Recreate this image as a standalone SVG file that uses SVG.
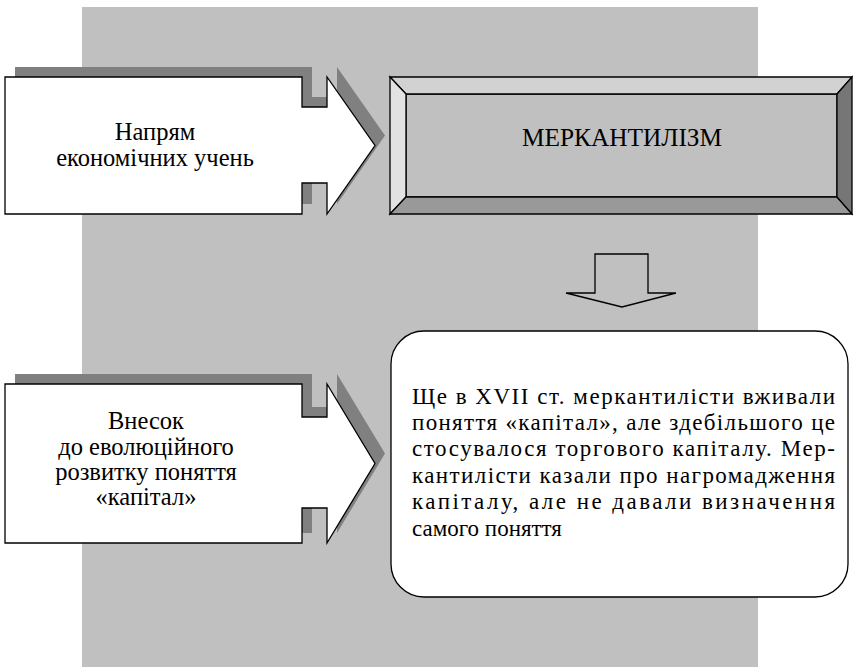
<svg xmlns="http://www.w3.org/2000/svg" width="853" height="667" viewBox="0 0 853 667">
<style>
  .bg { fill: #c0c0c0; }
  .shadow { fill: #808080; stroke: none; }
  .box { fill: #ffffff; stroke: #000; stroke-width: 1.3; stroke-linejoin: miter; }
  .bev { stroke: #000; stroke-width: 1.3; stroke-linejoin: miter; }
  text { font-family: 'Liberation Serif', 'Times New Roman', serif; fill: #000; }
  .lbl { font-size: 24.5px; text-anchor: middle; }
  .body { font-size: 23px; }
  .conn { fill: none; stroke: #000; stroke-width: 1.3; stroke-linejoin: miter; }
</style>
<rect class="bg" x="82" y="7" width="676" height="660"/>

<g id="node-direction">
  <path class="shadow" transform="translate(10,-10)" d="M5,77 H302 V107 H327 V77 L375,145.5 L327,214 V183 H302 V214 H5 Z"/>
  <path class="box" d="M5,77 H302 V107 H327 V77 L375,145.5 L327,214 V183 H302 V214 H5 Z"/>
  <text class="lbl" x="155" y="140">Напрям</text>
  <text class="lbl" x="155" y="166">економічних учень</text>
</g>

<g id="node-mercantilism">
  <rect x="406" y="94" width="431" height="103" fill="#c0c0c0" class="bev"/>
  <polygon class="bev" fill="#d2d2d2" points="390,77 852,77 837,94 406,94"/>
  <polygon class="bev" fill="#e2e2e2" points="390,77 406,94 406,197 390,214"/>
  <polygon class="bev" fill="#999999" points="390,214 406,197 837,197 852,214"/>
  <polygon class="bev" fill="#767676" points="852,77 852,214 837,197 837,94"/>
  <text x="622" y="146" font-size="25" text-anchor="middle" textLength="200" lengthAdjust="spacingAndGlyphs">МЕРКАНТИЛІЗМ</text>
</g>

<g id="node-contribution">
  <path class="shadow" transform="translate(10,-10)" d="M5,384 H302 V417 H327 V384 L375,463.5 L327,543 V508 H302 V543 H5 Z"/>
  <path class="box" d="M5,384 H302 V417 H327 V384 L375,463.5 L327,543 V508 H302 V543 H5 Z"/>
  <text class="lbl" x="146" y="429">Внесок</text>
  <text class="lbl" x="146" y="455">до еволюційного</text>
  <text class="lbl" x="146" y="480">розвитку поняття</text>
  <text class="lbl" x="146" y="505">«капітал»</text>
</g>

<g id="node-description">
  <rect class="box" x="391" y="331" width="457" height="266" rx="33" ry="33"/>
  <text class="body" x="412" y="404" textLength="423" lengthAdjust="spacing">Ще в XVII ст. меркантилісти вживали</text>
  <text class="body" x="412" y="430" textLength="423" lengthAdjust="spacing">поняття «капітал», але здебільшого це</text>
  <text class="body" x="412" y="456" textLength="423" lengthAdjust="spacing">стосувалося торгового капіталу. Мер-</text>
  <text class="body" x="412" y="483" textLength="423" lengthAdjust="spacing">кантилісти казали про нагромадження</text>
  <text class="body" x="412" y="509" textLength="423" lengthAdjust="spacing">капіталу, але не давали визначення</text>
  <text class="body" x="412" y="536">самого поняття</text>
</g>

<g id="connectors">
  <path class="conn" d="M595,254 H648 V293 H676 L622,307 L566,293 H595 Z"/>
</g>
</svg>
